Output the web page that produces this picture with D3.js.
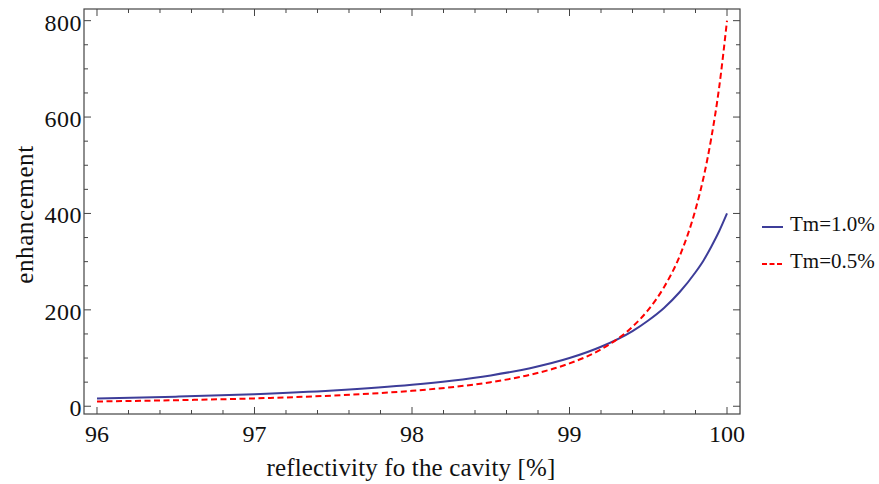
<!DOCTYPE html>
<html><head><meta charset="utf-8">
<script src="https://cdn.jsdelivr.net/npm/d3@7/dist/d3.min.js"></script>
<style>body{margin:0;background:#fff}svg{display:block}text{font-family:"Liberation Serif","Times New Roman",serif;fill:#111}</style>
</head><body><svg id="c" width="879" height="484"></svg>
<script>
const reflectivity = [96, 96.5, 97, 97.5, 98, 98.25, 98.5, 98.75, 99, 99.2, 99.4, 99.5, 99.6, 99.7, 99.8, 99.85, 99.9, 99.95, 100];
const tm10 = [16, 19.8, 25, 32.7, 44.4, 52.9, 64, 79, 100, 123.5, 156, 178, 204, 237, 278, 302, 331, 363, 400];
const tm05 = [9.9, 12.5, 16.3, 22.2, 32, 39.5, 50, 65.3, 88.9, 118, 165, 200, 247, 312, 408, 473, 556, 661, 800];
const seriesNames = ["Tm=1.0%", "Tm=0.5%"];
const xMajor = [96, 97, 98, 99, 100];
const yMajor = [0, 200, 400, 600, 800];

const svg = d3.select("#c");
const L = 84, R = 740, T = 9, B = 414;
const x = d3.scaleLinear().domain([95.9175, 100.0825]).range([L, R]);
const y = d3.scaleLinear().domain([-16.1, 824.2]).range([B, T]);
const frameCol = "#444";

svg.append("rect").attr("x", L).attr("y", T).attr("width", R - L).attr("height", B - T)
  .attr("fill", "none").attr("stroke", frameCol).attr("stroke-width", 1.2);

const xMinor = d3.range(96, 100.001, 0.2).map(v => +v.toFixed(1)).filter(v => !xMajor.includes(v));
const yMinor = d3.range(0, 801, 50).filter(v => !yMajor.includes(v));

const tk = svg.append("g").attr("stroke", frameCol).attr("stroke-width", 1);
function xt(vals, len) {
  vals.forEach(v => {
    tk.append("line").attr("x1", x(v)).attr("x2", x(v)).attr("y1", B).attr("y2", B - len);
    tk.append("line").attr("x1", x(v)).attr("x2", x(v)).attr("y1", T).attr("y2", T + len);
  });
}
function yt(vals, len) {
  vals.forEach(v => {
    tk.append("line").attr("y1", y(v)).attr("y2", y(v)).attr("x1", L).attr("x2", L + len);
    tk.append("line").attr("y1", y(v)).attr("y2", y(v)).attr("x1", R).attr("x2", R - len);
  });
}
xt(xMajor, 7); xt(xMinor, 4); yt(yMajor, 7); yt(yMinor, 4);

xMajor.forEach(v => svg.append("text").attr("x", x(v)).attr("y", 442).attr("text-anchor", "middle")
  .attr("font-size", 24).text(v));
yMajor.forEach(v => svg.append("text").attr("x", 82).attr("y", y(v) + 10)
  .attr("text-anchor", "end").attr("font-size", 24).attr("letter-spacing", 0.5).text(v));

svg.append("text").attr("x", 411).attr("y", 476).attr("text-anchor", "middle").attr("font-size", 25)
  .attr("letter-spacing", 0.15).text("reflectivity fo the cavity [%]");
svg.append("text").attr("transform", "translate(33,214.5) rotate(-90)").attr("text-anchor", "middle")
  .attr("font-size", 25).attr("letter-spacing", 0.6).text("enhancement");

const line = d3.line().curve(d3.curveMonotoneX);
svg.append("clipPath").attr("id", "cp").append("rect")
  .attr("x", L).attr("y", T).attr("width", R - L).attr("height", B - T);
const g = svg.append("g").attr("clip-path", "url(#cp)");
g.append("path").attr("d", line(reflectivity.map((r, i) => [x(r), y(tm10[i])])))
  .attr("fill", "none").attr("stroke", "#3d3d99").attr("stroke-width", 2);
g.append("path").attr("d", line(reflectivity.map((r, i) => [x(r), y(tm05[i])])))
  .attr("fill", "none").attr("stroke", "#ff0000").attr("stroke-width", 2).attr("stroke-dasharray", "6,3.5");

const leg = [{name: seriesNames[0], col: "#3d3d99", dash: null, ly: 227, ty: 231},
             {name: seriesNames[1], col: "#ff0000", dash: "5,2.5", ly: 264, ty: 268}];
leg.forEach(d => {
  svg.append("line").attr("x1", 762).attr("x2", 783).attr("y1", d.ly).attr("y2", d.ly)
    .attr("stroke", d.col).attr("stroke-width", 2).attr("stroke-dasharray", d.dash);
  svg.append("text").attr("x", 790).attr("y", d.ty).attr("font-size", 21).text(d.name);
});
</script></body></html>
